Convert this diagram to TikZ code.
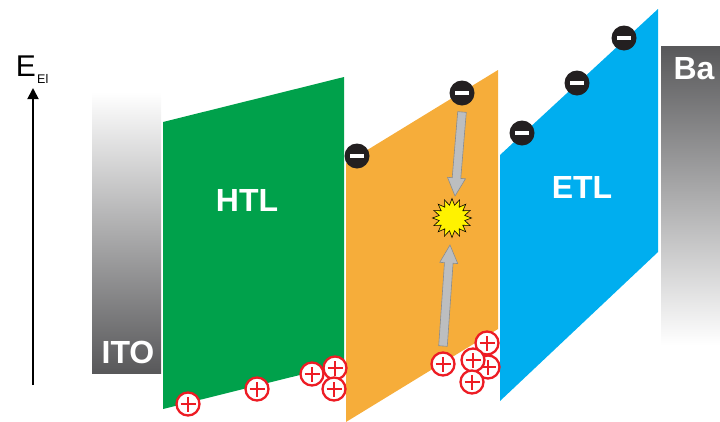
\documentclass[tikz,border=0pt]{standalone}
\usepackage{fontspec}
\setmainfont{Liberation Sans}
\usetikzlibrary{arrows.meta,shapes.geometric,calc}
\definecolor{htlgreen}{HTML}{00A14B}
\definecolor{emlorange}{HTML}{F6AD3A}
\definecolor{etlblue}{HTML}{00AEEF}
\definecolor{holered}{HTML}{ED1C24}
\definecolor{electron}{HTML}{231F20}
\definecolor{metaldark}{HTML}{58585A}
\definecolor{flowgray}{HTML}{BCBEC0}
\definecolor{flowedge}{HTML}{8A8C8E}
\definecolor{flash}{HTML}{FFF200}
\tikzset{
  layerlabel/.style={text=white, font=\fontsize{32}{32}\selectfont\bfseries, inner sep=0pt},
  minuscharge/.style={circle, fill=electron, minimum size=25pt, inner sep=0pt,
    path picture={\fill[white]
      ([xshift=-7pt,yshift=-2.4pt]path picture bounding box.center) rectangle
      ([xshift=7pt,yshift=2.4pt]path picture bounding box.center);}},
  pluscharge/.style={circle, draw=holered, line width=2.3pt, fill=white,
    minimum size=23pt, inner sep=0pt,
    path picture={\draw[holered, line width=2.3pt]
      ([xshift=-7.5pt]path picture bounding box.center) --
      ([xshift=7.5pt]path picture bounding box.center)
      ([yshift=-7.5pt]path picture bounding box.center) --
      ([yshift=7.5pt]path picture bounding box.center);}},
  flowarrow/.style={fill=flowgray, draw=flowedge, line width=0.6pt, line join=miter},
  exciton/.style={star, star points=16, star point ratio=1.5, minimum size=39pt,
    inner sep=0pt, fill=flash, draw=black, line width=0.6pt},
}
% block arrow from #1 to #2
\newcommand{\blockarrow}[2]{%
  \coordinate (hb) at ($(#2)!18pt!(#1)$);
  \draw[flowarrow]
    ($(#1)!4.3pt!-90:(#2)$) -- ($(hb)!4.3pt!90:(#1)$) -- ($(hb)!9pt!90:(#1)$) --
    (#2) -- ($(hb)!9pt!-90:(#1)$) -- ($(hb)!4.3pt!-90:(#1)$) --
    ($(#1)!4.3pt!90:(#2)$) -- cycle;}
\begin{document}
\begin{tikzpicture}[x=1pt,y=-1pt]
\useasboundingbox (0,0) rectangle (720,421);

% energy axis
\coordinate (axbot) at (33,385);
\coordinate (axtop) at (33,88);
\draw[line width=1.8pt, -{Triangle[width=11pt,length=11pt]}] (axbot) -- (axtop);
\node[inner sep=0pt, font=\fontsize{30}{30}\selectfont] (E) at (26,66) {E};
\node[inner sep=0pt, font=\fontsize{12.5}{12.5}\selectfont, anchor=west] (Esub) at (37,79) {El};

% electrodes
\shade[top color=white, bottom color=metaldark] (92,92) rectangle (161,373);
\shade[top color=metaldark, bottom color=white] (661,46) rectangle (720,345);

% organic layers
\fill[htlgreen] (163,122) -- (344,77) -- (344,364) -- (163,409) -- cycle;
\fill[emlorange] (346,163) -- (498,70) -- (498,329) -- (346,422) -- cycle;
\fill[etlblue] (500,155) -- (658,9) -- (658,252) -- (500,401) -- cycle;

% labels
\node[layerlabel] (ito) at (128,352) {ITO};
\node[layerlabel] (htl) at (247,200) {HTL};
\node[layerlabel] (etl) at (582,187) {ETL};
\node[layerlabel] (ba) at (694,69) {Ba};

% charge carriers moving to the recombination zone
\node[exciton] (flash) at (452,218) {};
\coordinate (eStart) at (462,112);
\coordinate (eEnd) at (455,196);
\coordinate (hStart) at (443,346);
\coordinate (hEnd) at (450,245);
\blockarrow{eStart}{eEnd}
\blockarrow{hStart}{hEnd}

% electrons
\node[minuscharge] (e1) at (357,156) {};
\node[minuscharge] (e2) at (462,93) {};
\node[minuscharge] (e3) at (522,133) {};
\node[minuscharge] (e4) at (577,83) {};
\node[minuscharge] (e5) at (624,38) {};

% holes
\node[pluscharge] (h1) at (188,404) {};
\node[pluscharge] (h2) at (257,389) {};
\node[pluscharge] (h3) at (312,374) {};
\node[pluscharge] (h4) at (335,368) {};
\node[pluscharge] (h5) at (334,389) {};
\node[pluscharge] (h6) at (443,364) {};
\node[pluscharge] (h7) at (487,343) {};
\node[pluscharge] (h8) at (488,367) {};
\node[pluscharge] (h9) at (473,360) {};
\node[pluscharge] (h10) at (472,382) {};
\end{tikzpicture}
\end{document}
